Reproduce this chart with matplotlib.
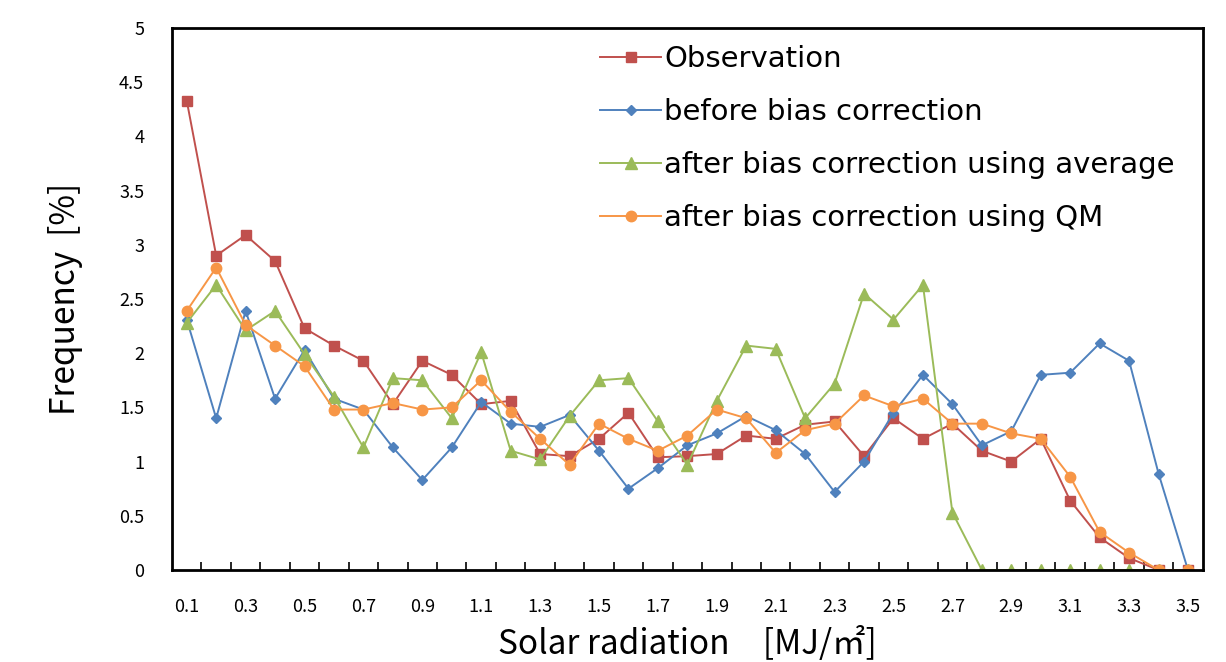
import matplotlib
matplotlib.use("Agg")
import matplotlib.pyplot as plt
import numpy as np

plt.rcParams['font.family'] = ['Noto Sans CJK JP', 'DejaVu Sans']

categories = [f"{v/10:.1f}" for v in range(1, 36)]

observation = [4.33, 2.90, 3.09, 2.85, 2.23, 2.07, 1.93, 1.53, 1.93, 1.80,
               1.53, 1.56, 1.07, 1.05, 1.21, 1.45, 1.04, 1.05, 1.07, 1.24,
               1.21, 1.34, 1.37, 1.05, 1.40, 1.21, 1.35, 1.10, 1.00, 1.21,
               0.64, 0.30, 0.11, 0.00, 0.00]
before_bc = [2.31, 1.40, 2.39, 1.58, 2.03, 1.58, 1.48, 1.13, 0.83, 1.13,
             1.55, 1.35, 1.32, 1.43, 1.10, 0.75, 0.94, 1.15, 1.26, 1.42,
             1.29, 1.07, 0.72, 1.00, 1.45, 1.80, 1.53, 1.15, 1.28, 1.80,
             1.82, 2.09, 1.93, 0.89, 0.00]
after_avg = [2.28, 2.63, 2.21, 2.39, 1.99, 1.60, 1.13, 1.77, 1.75, 1.40,
             2.01, 1.10, 1.02, 1.42, 1.75, 1.77, 1.37, 0.97, 1.56, 2.07,
             2.04, 1.40, 1.72, 2.55, 2.31, 2.63, 0.53, 0.00, 0.00, 0.00,
             0.00, 0.00, 0.00, 0.00, 0.00]
after_qm = [2.39, 2.79, 2.26, 2.07, 1.88, 1.48, 1.48, 1.54, 1.48, 1.50,
            1.75, 1.46, 1.21, 0.97, 1.35, 1.21, 1.10, 1.24, 1.48, 1.40,
            1.08, 1.29, 1.35, 1.61, 1.51, 1.58, 1.35, 1.35, 1.26, 1.21,
            0.86, 0.35, 0.16, 0.00, 0.00]

series_labels = ["Observation", "before bias correction",
                 "after bias correction using average",
                 "after bias correction using QM"]

fig = plt.figure(figsize=(12.26, 6.62), dpi=100)
ax = fig.add_axes([0.1403, 0.139, 0.8407, 0.8187])

x = np.arange(len(categories))
ax.plot(x, observation, color='#C0504D', marker='s', markersize=7, lw=1.4, label=series_labels[0])
ax.plot(x, before_bc, color='#4F81BD', marker='D', markersize=5.5, lw=1.4, label=series_labels[1])
ax.plot(x, after_avg, color='#9BBB59', marker='^', markersize=8, lw=1.4, label=series_labels[2])
ax.plot(x, after_qm, color='#F79646', marker='o', markersize=7.5, lw=1.4, label=series_labels[3])

ax.set_xlim(-0.5, len(categories) - 0.5)
ax.set_ylim(0, 5)
ax.set_yticks(np.arange(0, 5.01, 0.5))
ax.set_yticklabels([f"{v:g}" for v in np.arange(0, 5.01, 0.5)], fontsize=13)
ax.tick_params(axis='y', length=0, pad=20)

ax.set_xticks(x[::2])
ax.set_xticklabels(categories[::2], fontsize=13)
ax.set_xticks(np.arange(0.5, len(categories) - 1, 1), minor=True)
ax.tick_params(axis='x', which='major', length=0, pad=20)
ax.tick_params(axis='x', which='minor', direction='in', length=6, width=1.2)

for s in ax.spines.values():
    s.set_linewidth(2)
    s.set_color('black')

ax.set_xlabel("Solar radiation　[MJ/㎡]", fontsize=24, labelpad=8)
ax.set_ylabel("Frequency  [%]", fontsize=24, labelpad=26)

ax.legend(loc='upper left', bbox_to_anchor=(0.39, 1.017), frameon=False,
          prop={'family': 'DejaVu Sans', 'size': 21},
          handlelength=2.1, handletextpad=0.1, labelspacing=0.86)

fig.savefig("out.png", dpi=100)
